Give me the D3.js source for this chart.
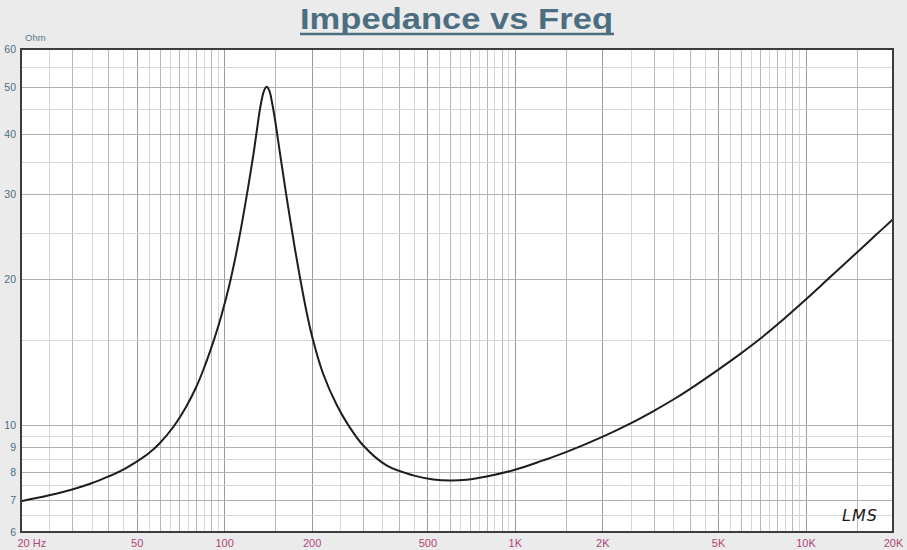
<!DOCTYPE html>
<html><head><meta charset="utf-8">
<script src="https://cdn.jsdelivr.net/npm/d3@7"></script>
<style>html,body{margin:0;padding:0;background:#ebebeb;} svg{display:block;}</style>
</head><body><svg id="c" width="907" height="550"></svg>
<script>
// ---- data ----
const freqHz = [20,25,30,35,40,45,50,55,60,67,74,80,85,93,98,104,111,118,126,130,133,137,140,143,146,150,155.6,164.8,175,183,192,201,219,244,267,301,362,447,524,600,683,800,1000,1250,1500,2000,2500,3000,3500,4000,5000,6000,7000,8000,10000,11800,15000,17330,20000];
const impedanceOhm = [6.95,7.15,7.35,7.57,7.82,8.08,8.39,8.73,9.16,9.92,10.90,11.95,13.05,15.23,16.91,19.38,23.26,28.46,36.2,41.3,45.3,49.1,50.1,49.2,46.6,42.4,36.5,29.05,23.22,19.95,17.15,15.19,12.76,10.99,10.0,9.06,8.24,7.86,7.71,7.67,7.70,7.82,8.07,8.44,8.78,9.44,10.07,10.68,11.27,11.86,13.0,14.06,15.09,16.13,18.16,19.89,22.72,24.62,26.64];
const xTickValues = [20,50,100,200,500,1000,2000,5000,10000,20000];
const xTickLabels = ["20 Hz","50","100","200","500","1K","2K","5K","10K","20K"];
const yTickValues = [6,7,8,9,10,20,30,40,50,60];
const yTickLabels = ["6","7","8","9","10","20","30","40","50","60"];
const xGridMantissas = [2,2.5,3,3.5,4,4.5,5,5.5,6,6.5,7,7.5,8,8.5,9,9.5,10,15];
const xGridDecades = [10,100,1000];
const yGridValues = [6,6.5,7,7.5,8,8.5,9,9.5,10,15,20,25,30,35,40,45,50,55,60];
const titleText = "Impedance vs Freq";
const unitText = "Ohm";

// ---- layout ----
const L = 21, R = 893, T = 49, B = 532;
const svg = d3.select("#c");
const x = d3.scaleLog().domain([20, 20000]).range([L, R]);
const y = d3.scaleLog().domain([6, 60]).range([B, T]);

svg.append("rect").attr("width", 907).attr("height", 550).attr("fill", "#ebebeb");
svg.append("rect").attr("x", L).attr("y", T).attr("width", R - L).attr("height", B - T).attr("fill", "#ffffff");

// grid
const xGrid = [];
xGridDecades.forEach(d => xGridMantissas.forEach(m => xGrid.push({v: m * d, m: m})));
xGrid.push({v: 20000, m: 2});
const majorX = new Set([20,50,100,200,500,1000,2000,5000,10000,20000]);
const g = svg.append("g");
g.selectAll("line.vx").data(xGrid).join("line")
  .attr("x1", d => Math.round(x(d.v)) + 0.5).attr("x2", d => Math.round(x(d.v)) + 0.5)
  .attr("y1", T).attr("y2", B)
  .attr("stroke", d => majorX.has(d.v) ? "#9a9a9a" : (Number.isInteger(d.m) ? "#b8b8b8" : "#d6d6d6"))
  .attr("stroke-width", 1);
g.selectAll("line.hy").data(yGridValues).join("line")
  .attr("x1", L).attr("x2", R)
  .attr("y1", d => Math.round(y(d)) + 0.5).attr("y2", d => Math.round(y(d)) + 0.5)
  .attr("stroke", d => (Number.isInteger(d) && (d <= 10 || d % 10 === 0)) ? "#b0b0b0" : "#d6d6d6")
  .attr("stroke-width", 1);

// curve
const pts = freqHz.map((f, i) => [f, impedanceOhm[i]]);
svg.append("path").datum(pts)
  .attr("d", d3.line().x(d => x(d[0])).y(d => y(d[1])).curve(d3.curveCatmullRom.alpha(0.5)))
  .attr("fill", "none").attr("stroke", "#1e1e1e").attr("stroke-width", 2).attr("stroke-linejoin", "round");

// border
svg.append("rect").attr("x", L).attr("y", T).attr("width", R - L).attr("height", B - T)
  .attr("fill", "none").attr("stroke", "#3c3c3c").attr("stroke-width", 2);

// axes
const xAxis = d3.axisBottom(x).tickValues(xTickValues).tickSize(0)
  .tickFormat((d, i) => xTickLabels[i]);
const xg = svg.append("g").attr("transform", `translate(0,${B})`).call(xAxis);
xg.select(".domain").remove();
xg.selectAll("text").attr("fill", "#b0447a").attr("font-family", "Liberation Sans, Arial, sans-serif")
  .attr("font-size", 11).attr("dy", "0").attr("y", 15);
xg.selectAll(".tick").filter(d => d === 20).select("text").attr("text-anchor", "start").attr("x", -4);

const yAxis = d3.axisLeft(y).tickValues(yTickValues).tickSize(0)
  .tickFormat((d, i) => yTickLabels[i]);
const yg = svg.append("g").attr("transform", `translate(${L},0)`).call(yAxis);
yg.select(".domain").remove();
yg.selectAll("text").attr("fill", "#4d6d82").attr("font-family", "Liberation Sans, Arial, sans-serif")
  .attr("font-size", 10.5).attr("x", -5);

svg.append("text").attr("x", 25).attr("y", 41).text(unitText)
  .attr("fill", "#5a7a8e").attr("font-family", "Liberation Sans, Arial, sans-serif").attr("font-size", 9.5);

// title
svg.append("text").attr("x", 300).attr("y", 29).text(titleText)
  .attr("textLength", 313).attr("lengthAdjust", "spacingAndGlyphs")
  .attr("fill", "#4b6e80").attr("font-family", "Liberation Sans, Arial, sans-serif")
  .attr("font-weight", "bold").attr("font-size", 30);
svg.append("line").attr("x1", 300).attr("x2", 614).attr("y1", 34).attr("y2", 34)
  .attr("stroke", "#4b6e80").attr("stroke-width", 2.5);

// LMS mark
svg.append("text").attr("x", 860).attr("y", 521).attr("text-anchor", "middle").text("LMS")
  .attr("font-family", "DejaVu Sans, sans-serif").attr("font-style", "italic")
  .attr("font-size", 16).attr("fill", "#1a1a1a").attr("letter-spacing", 1);
</script>
</body></html>
